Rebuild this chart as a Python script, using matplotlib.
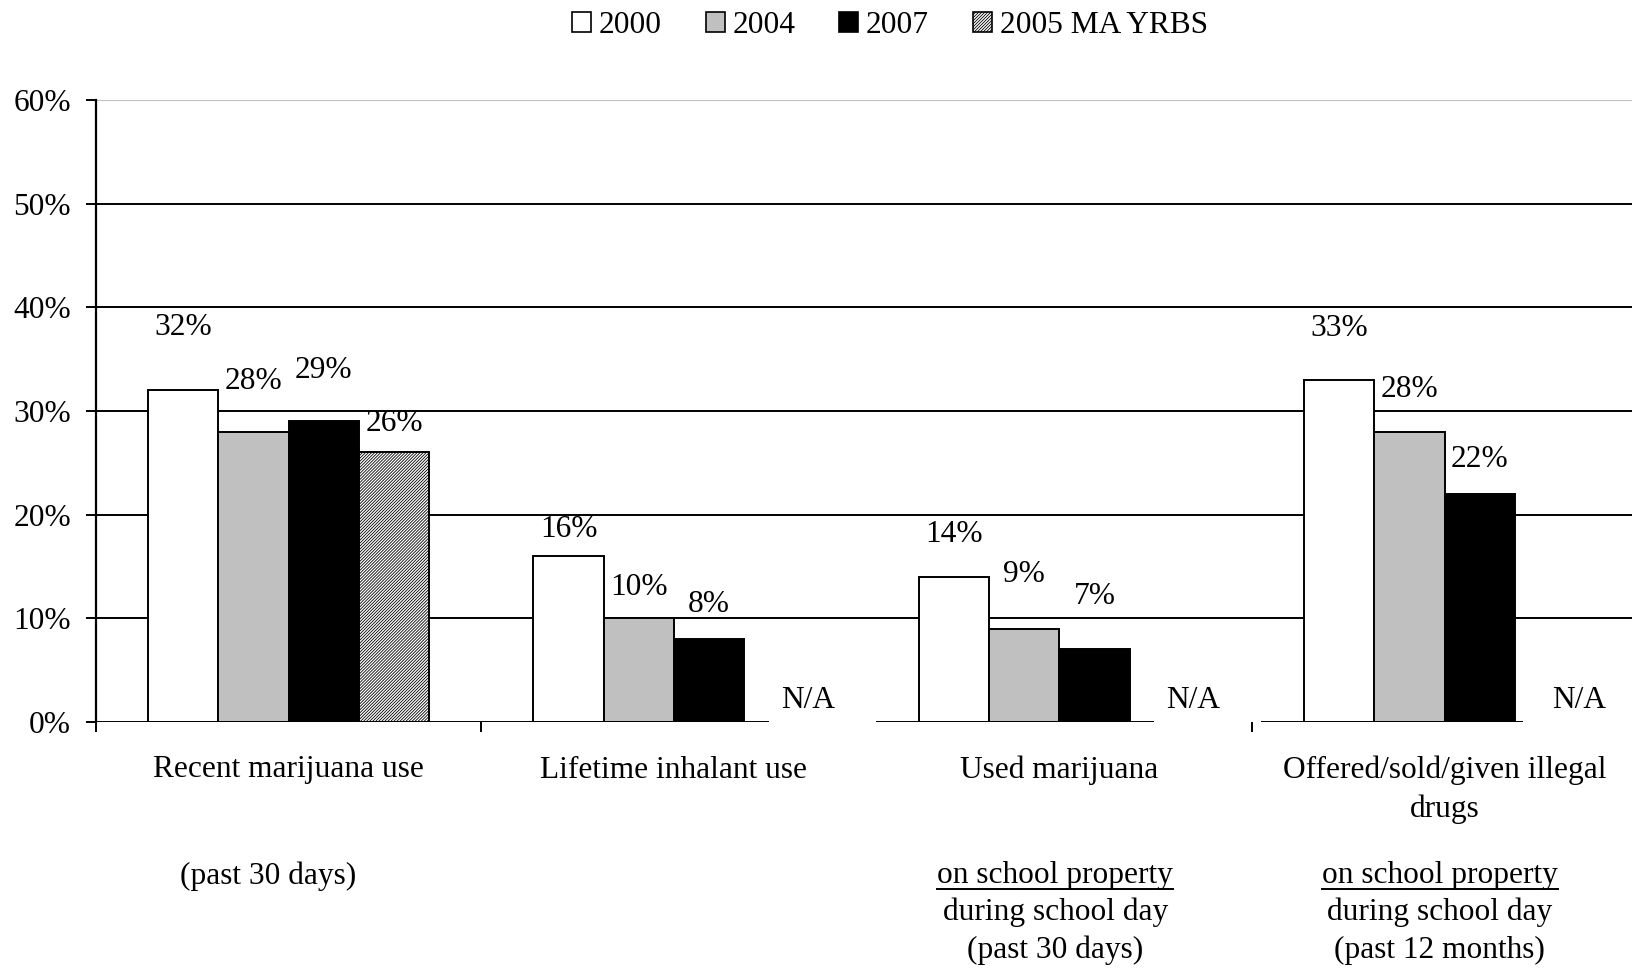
import matplotlib
matplotlib.use("Agg")
import matplotlib.pyplot as plt
from matplotlib.patches import Patch
from matplotlib.lines import Line2D

plt.rcParams['font.family'] = ['Liberation Serif', 'DejaVu Serif']
plt.rcParams['hatch.linewidth'] = 0.6

# data
series_names = ["2000", "2004", "2007", "2005 MA YRBS"]
y2000 = [32, 16, 14, 33]
y2004 = [28, 10, 9, 28]
y2007 = [29, 8, 7, 22]
yrbs = [26, None, None, None]
main_labels = [["Recent marijuana use"], ["Lifetime inhalant use"], ["Used marijuana"],
               ["Offered/sold/given illegal", "drugs"]]
sub_labels = [["(past 30 days)"], [],
              ["_on school property", "during school day", "(past 30 days)"],
              ["_on school property", "during school day", "(past 12 months)"]]
yticks = [0, 10, 20, 30, 40, 50, 60]

# layout / style
FS = 22.6
colors = ["white", "#c0c0c0", "black", "white"]
hatches = [None, None, None, "///////////"]
w = 0.1824
# label offsets above bar tops (pixels), per group and series
label_off = [[63, 50, 51, 29], [27, 31, 35], [42, 54, 53], [51, 42, 34]]
base_segments = [(-0.5, 1.247), (1.524, 2.246), (2.523, 3.204)]

fig = plt.figure(figsize=(16.33, 9.68), dpi=100)
ax = fig.add_axes([96 / 1633, 1 - 722 / 968, 1 - 96 / 1633, 622 / 968])

for t in yticks[1:-1]:
    ax.axhline(t, color="black", lw=1.4, zorder=1)
ax.axhline(60, color="#c0c0c0", lw=0.8, zorder=1)

all_series = [y2000, y2004, y2007, yrbs]
px_per_unit = 622 / 60
for s, vals in enumerate(all_series):
    for i, v in enumerate(vals):
        x = i + (s - 1.5) * w
        if v is None:
            ax.text(x + 0.075, 22 / px_per_unit, "N/A", ha="center", va="center", fontsize=FS, zorder=4)
            continue
        ax.bar(x, v, width=w, color=colors[s], edgecolor="black", linewidth=1.4,
               hatch=hatches[s], zorder=2)
        off = label_off[i][s] / px_per_unit
        ax.text(x, v + off, f"{v}%", ha="center", va="center", fontsize=FS, zorder=4)

for a, b in base_segments:
    ax.hlines(0, a, b, color="black", lw=1.4, zorder=3)

ax.set_xlim(-0.5, 3.489)
ax.set_ylim(0, 60)
ax.set_yticks(yticks)
ax.set_yticklabels([f"{t}%" for t in yticks], fontsize=FS)
ax.set_xticks([-0.5, 0.5, 2.5])
ax.set_xticklabels([])
ax.tick_params(axis="both", length=7, width=1.4, color="black")
ax.tick_params(axis="y", pad=11)
for sp in ["top", "right", "bottom"]:
    ax.spines[sp].set_visible(False)
ax.spines["left"].set_linewidth(1.6)

tr = ax.get_xaxis_transform()
main_y = [770, 809]
sub_y = [876, 912, 950]
sub_dx = [-0.054, 0, -0.01, -0.013]
underlined = []
for i in range(4):
    for k, line in enumerate(main_labels[i]):
        ax.text(i, (722 - main_y[k]) / 622, line, transform=tr, ha="center", va="center",
                fontsize=FS)
    for k, line in enumerate(sub_labels[i]):
        u = line.startswith("_")
        t = ax.text(i + sub_dx[i], (722 - sub_y[k]) / 622, line.lstrip("_"), transform=tr,
                    ha="center", va="center", fontsize=FS)
        if u:
            underlined.append(t)

handles = [Patch(facecolor=colors[s], edgecolor="black", hatch=hatches[s], linewidth=1.2)
           for s in range(4)]
fig.legend(handles, series_names, loc="center", bbox_to_anchor=(0.545, 0.974), ncol=4,
           frameon=False, fontsize=FS, handlelength=0.6, handleheight=0.6,
           handletextpad=0.25, columnspacing=1.4, borderpad=0)

# underline
fig.canvas.draw()
r = fig.canvas.get_renderer()
for t in underlined:
    bb = t.get_window_extent(r)
    yline = bb.y0 + 2
    fig.add_artist(Line2D([bb.x0 / fig.bbox.width, bb.x1 / fig.bbox.width],
                          [yline / fig.bbox.height] * 2, color="black", lw=1.4))

fig.savefig("out.png", dpi=100)
